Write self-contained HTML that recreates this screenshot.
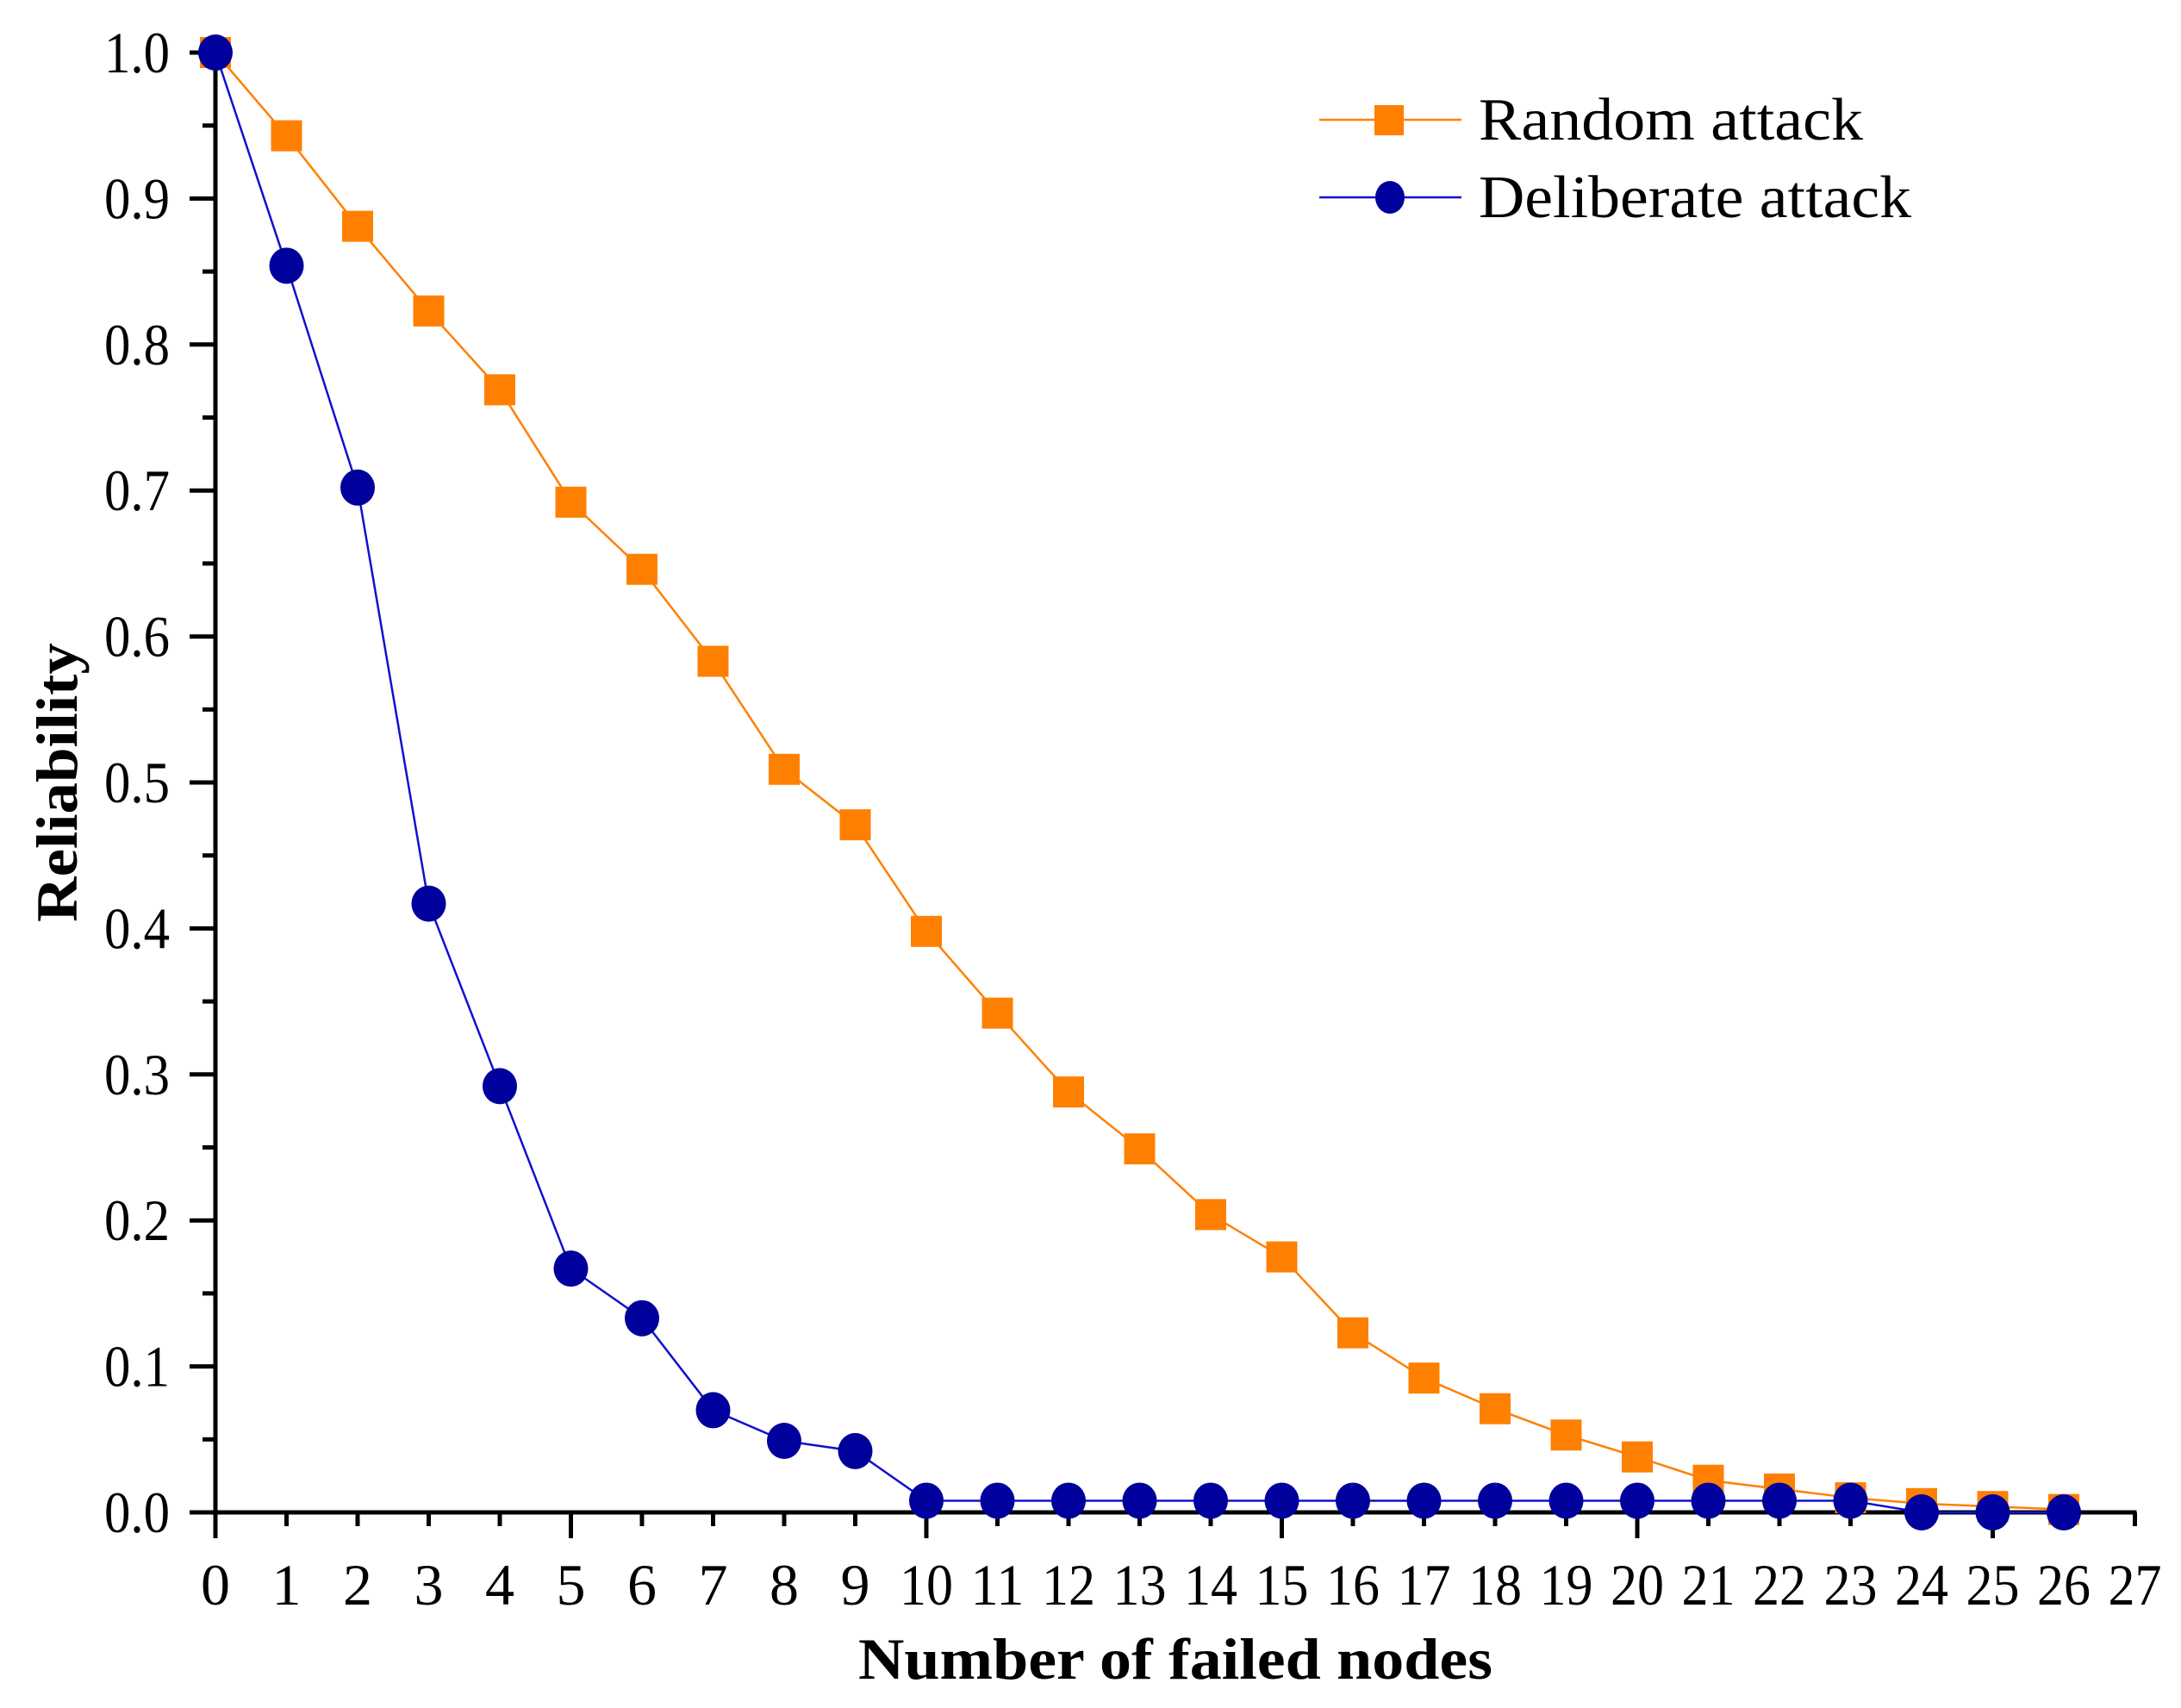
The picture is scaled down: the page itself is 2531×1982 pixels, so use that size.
<!DOCTYPE html>
<html><head><meta charset="utf-8"><style>
html,body{margin:0;padding:0;background:#fff;}
svg{display:block;font-family:"Liberation Serif","Times New Roman",serif;}
</style></head><body>
<svg id="chart" width="2531" height="1982" viewBox="0 0 2531 1982" xmlns="http://www.w3.org/2000/svg">
<g id="axes"></g>
<g id="series"></g>
<text x="1364" y="1948" text-anchor="middle" font-size="68" font-weight="bold" textLength="736" lengthAdjust="spacingAndGlyphs">Number of failed nodes</text>
<text transform="translate(89,908) rotate(-90)" text-anchor="middle" font-size="68" font-weight="bold" textLength="324" lengthAdjust="spacingAndGlyphs">Reliability</text>
<g>
 <g>
  <line x1="1531" y1="139" x2="1696" y2="139" stroke="#ff8000" stroke-width="2.5"/>
  <rect x="1595" y="122" width="34" height="35" fill="#ff8000"/>
  <text x="1716" y="162" font-size="70" textLength="446" lengthAdjust="spacingAndGlyphs">Random attack</text>
 </g>
 <g>
  <line x1="1531" y1="229" x2="1696" y2="229" stroke="#1010d0" stroke-width="2.5"/>
  <ellipse cx="1613" cy="229" rx="17" ry="19" fill="#00009c"/>
  <text x="1716" y="252" font-size="70" textLength="502" lengthAdjust="spacingAndGlyphs">Deliberate attack</text>
 </g>
</g>
</svg>
<script>
const xCategories = [0,1,2,3,4,5,6,7,8,9,10,11,12,13,14,15,16,17,18,19,20,21,22,23,24,25,26];
const randomValues = [1.0,0.943,0.881,0.823,0.769,0.692,0.646,0.583,0.509,0.471,0.398,0.342,0.288,0.249,0.204,0.175,0.123,0.092,0.071,0.053,0.038,0.022,0.016,0.010,0.006,0.004,0.002];
const deliberateValues = [1.0,0.854,0.702,0.417,0.292,0.167,0.133,0.070,0.049,0.042,0.008,0.008,0.008,0.008,0.008,0.008,0.008,0.008,0.008,0.008,0.008,0.008,0.008,0.008,0.0,0.0,0.0];
const xTickLabels = ["0","1","2","3","4","5","6","7","8","9","10","11","12","13","14","15","16","17","18","19","20","21","22","23","24","25","26","27"];
const yTickLabels = ["0.0","0.1","0.2","0.3","0.4","0.5","0.6","0.7","0.8","0.9","1.0"];

const NS = "http://www.w3.org/2000/svg";
const X0 = 250, XU = 82.5, Y0 = 1755, YH = 1694;
function sx(v){ return X0 + v*XU; }
function sy(v){ return Y0 - v*YH; }
function mk(tag, attrs, parent){
  const e = document.createElementNS(NS, tag);
  for (const k in attrs) e.setAttribute(k, attrs[k]);
  parent.appendChild(e); return e;
}
const axes = document.getElementById('axes');
const series = document.getElementById('series');

const yAxis = mk('line', {x1:X0, y1:sy(1)-2, x2:X0, y2:Y0+3, stroke:'#000', 'stroke-width':5}, axes);


const xAxis = mk('line', {x1:X0-28, y1:Y0, x2:sx(27)+2, y2:Y0, stroke:'#000', 'stroke-width':5}, axes);



yTickLabels.forEach((lab, i) => {
  const v = i/10;
  mk('line', {x1:X0-30, y1:sy(v), x2:X0, y2:sy(v), stroke:'#000', 'stroke-width':5}, axes);
  if (i < 10) mk('line', {x1:X0-15, y1:sy(v+0.05), x2:X0, y2:sy(v+0.05), stroke:'#000', 'stroke-width':5}, axes);
  const t = mk('text', {x:197, y:sy(v)+23, 'text-anchor':'end', 'font-size':68, textLength:76, lengthAdjust:'spacingAndGlyphs'}, axes);
  t.textContent = lab;
  
  
});
xTickLabels.forEach((lab, i) => {
  const major = (i % 5 === 0);
  mk('line', {x1:sx(i), y1:Y0, x2:sx(i), y2:Y0 + (major?30:16), stroke:'#000', 'stroke-width':5}, axes);
  const attrs = {x:sx(i), y:1862, 'text-anchor':'middle', 'font-size':68};
  if (lab.length === 2) { attrs.textLength = 62; attrs.lengthAdjust = 'spacingAndGlyphs'; }
  const t = mk('text', attrs, axes);
  t.textContent = lab;
  
  
});

function drawLine(vals, color, name){
  const pts = vals.map((v,i) => sx(xCategories[i]) + ',' + sy(v)).join(' ');
  const pl = mk('polyline', {points:pts, fill:'none', stroke:color, 'stroke-width':2.5}, series);
  
  
}
drawLine(randomValues, '#ff8000', 'random-attack-line');
drawLine(deliberateValues, '#1010d0', 'deliberate-attack-line');
randomValues.forEach((v,i) => {
  const r = mk('rect', {x:sx(xCategories[i])-18, y:sy(v)-18, width:36, height:36, fill:'#ff8000'}, series);
  
  
});
deliberateValues.forEach((v,i) => {
  const c = mk('ellipse', {cx:sx(xCategories[i]), cy:sy(v), rx:20, ry:21, fill:'#00009c'}, series);
  
  
});
</script>
</body></html>
